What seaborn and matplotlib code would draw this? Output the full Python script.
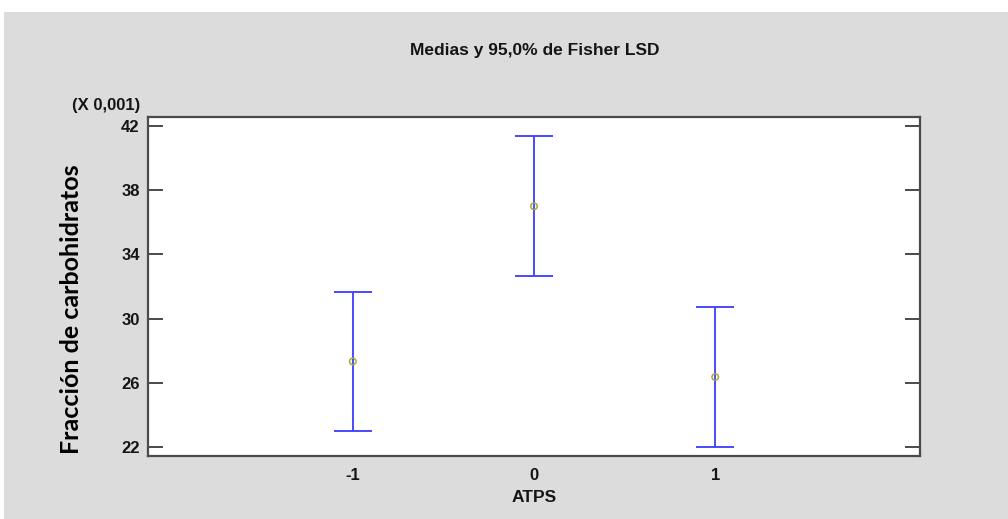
import matplotlib
matplotlib.use("Agg")
import matplotlib.pyplot as plt
from matplotlib.patches import Rectangle
import seaborn as sns
import pandas as pd

# Fisher LSD means (x 0.001) and 95% interval half-width for each ATPS level
atps_levels = [-1, 0, 1]
means = [27.33, 37.00, 26.36]
lsd_halfwidth = [4.35, 4.37, 4.36]
y_ticks = [22, 26, 30, 34, 38, 42]

sns.set_theme(style="white")
plt.rcParams["font.family"] = ["Liberation Sans", "DejaVu Sans"]

df = pd.DataFrame({"ATPS": atps_levels, "media": means, "lsd": lsd_halfwidth})

fig = plt.figure(figsize=(10.08, 5.19), dpi=100)
fig.patch.set_facecolor("white")
fig.add_artist(Rectangle((4 / 1008, 0), 1, 1 - 12 / 519, transform=fig.transFigure,
                         facecolor="#dcdcdc", edgecolor="none", zorder=-10))

ax = fig.add_axes([148 / 1008, 1 - 456 / 519, 772 / 1008, 339 / 519])
ax.set_facecolor("white")

ax.errorbar(df["ATPS"], df["media"], yerr=df["lsd"], fmt="none",
            ecolor="#3c3cff", elinewidth=1.3, capsize=14, capthick=1.3, zorder=2)
sns.scatterplot(data=df, x="ATPS", y="media", ax=ax, marker="o", s=22,
                facecolor="none", edgecolor="#a8a83a", linewidth=1.1, zorder=3)

ax.set_xlim(-2.13, 2.13)
ax.set_ylim(21.44, 42.56)
ax.set_xticks(atps_levels)
ax.set_xticklabels([str(v) for v in atps_levels])
ax.set_yticks(y_ticks)
ax.set_yticklabels([str(v) for v in y_ticks])

for side in ["left", "right", "top", "bottom"]:
    ax.spines[side].set_visible(True)
    ax.spines[side].set_color("#4a4a4a")
    ax.spines[side].set_linewidth(1.6)

ax.tick_params(axis="y", which="both", direction="in", length=11, width=1.4,
               color="#4a4a4a", left=True, right=True, pad=6,
               labelsize=12, labelcolor="#151515")
ax.tick_params(axis="x", which="both", length=0, pad=9,
               labelsize=12, labelcolor="#151515")
for lbl in ax.get_xticklabels() + ax.get_yticklabels():
    lbl.set_fontweight("bold")

ax.set_xlabel("ATPS", fontsize=12.5, fontweight="bold", color="#151515", labelpad=5)
ax.set_ylabel("")

fig.text(535 / 1008, 1 - 51 / 519, "Medias y 95,0% de Fisher LSD",
         ha="center", va="center", fontsize=12.5, fontweight="bold", color="#151515")
fig.text(140 / 1008, 1 - 105 / 519, "(X 0,001)",
         ha="right", va="center", fontsize=12, fontweight="bold", color="#151515")
fig.text(72 / 1008, 1 - 309 / 519, "Fracción de carbohidratos",
         ha="center", va="center", rotation=90, fontsize=18, fontweight="bold",
         color="black", family=["Lato", "DejaVu Sans"])

fig.savefig("out.png", dpi=100, facecolor=fig.get_facecolor())
